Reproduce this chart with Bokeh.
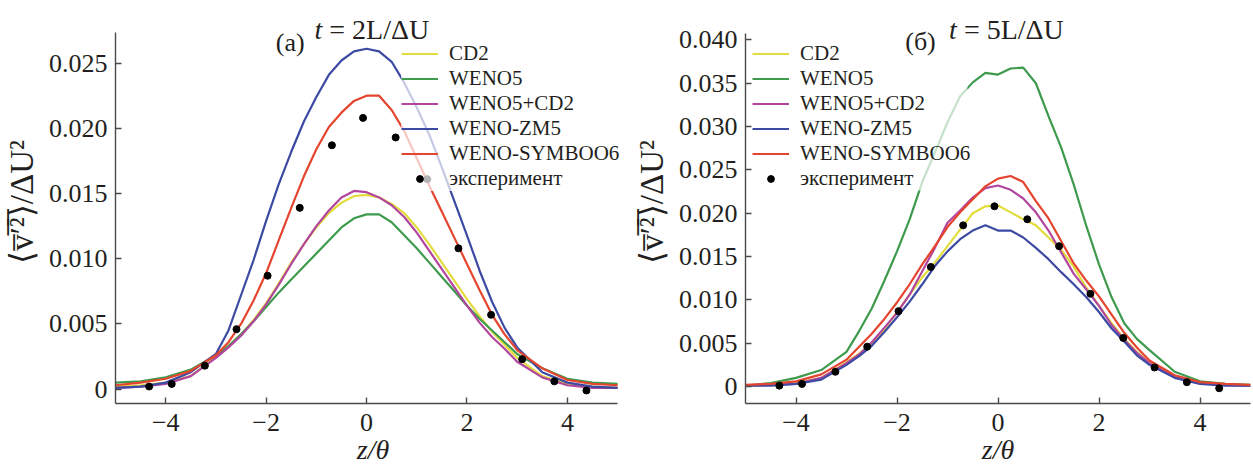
from bokeh.plotting import figure
from bokeh.layouts import row
from bokeh.models import Range1d, FixedTicker, Legend, LegendItem, Label, BoxAnnotation
from bokeh.embed import file_html
from bokeh.resources import INLINE

# ---------------- data ----------------
series_names = ["CD2", "WENO5", "WENO5+CD2", "WENO-ZM5", "WENO-SYMBOO6"]
exp_name = "эксперимент"

z = [-5, -4.5, -4, -3.5, -3, -2.75, -2.5, -2.25, -2, -1.75, -1.5, -1.25, -1, -0.75, -0.5, -0.25,
     0, 0.25, 0.5, 0.75, 1, 1.25, 1.5, 1.75, 2, 2.25, 2.5, 2.75, 3, 3.5, 4, 4.5, 5]

# panel (a): t = 2L/dU
cd2_a = [0.0002, 0.0003, 0.0005, 0.0010, 0.0025, 0.0033, 0.0042, 0.0053, 0.0066, 0.0081, 0.0097, 0.0111, 0.0124, 0.0135, 0.0143, 0.0148,
         0.0149, 0.0147, 0.0142, 0.0135, 0.0124, 0.0111, 0.0097, 0.0083, 0.0069, 0.0056, 0.0044, 0.0034, 0.0024, 0.0010, 0.0004, 0.0002, 0.0001]
weno5_a = [0.0005, 0.0006, 0.0009, 0.0015, 0.0026, 0.0033, 0.0042, 0.0052, 0.0063, 0.0074, 0.0084, 0.0094, 0.0104, 0.0114, 0.0124, 0.0131,
           0.0134, 0.0134, 0.0128, 0.0118, 0.0108, 0.0097, 0.0086, 0.0075, 0.0064, 0.0054, 0.0045, 0.0036, 0.0027, 0.0016, 0.0008, 0.0005, 0.0004]
weno5cd2_a = [0.0001, 0.0002, 0.0004, 0.0010, 0.0024, 0.0032, 0.0041, 0.0052, 0.0065, 0.0080, 0.0096, 0.0111, 0.0125, 0.0137, 0.0147, 0.0152,
              0.0151, 0.0147, 0.0141, 0.0132, 0.0120, 0.0106, 0.0092, 0.0078, 0.0064, 0.0051, 0.0040, 0.0031, 0.0021, 0.0009, 0.0003, 0.0001, 0.0001]
zm5_a = [0.0001, 0.0002, 0.0005, 0.0013, 0.0027, 0.0045, 0.0072, 0.0099, 0.0129, 0.0157, 0.0182, 0.0205, 0.0224, 0.0241, 0.0252, 0.0259,
         0.0261, 0.0259, 0.0251, 0.0235, 0.0216, 0.0195, 0.0170, 0.0144, 0.0118, 0.0091, 0.0067, 0.0047, 0.0032, 0.0013, 0.0005, 0.0002, 0.0001]
symboo6_a = [0.0003, 0.0005, 0.0008, 0.0014, 0.0026, 0.0036, 0.0050, 0.0068, 0.0089, 0.0114, 0.0139, 0.0163, 0.0184, 0.0201, 0.0212, 0.0221,
             0.0225, 0.0225, 0.0214, 0.0198, 0.0177, 0.0156, 0.0136, 0.0116, 0.0096, 0.0076, 0.0057, 0.0042, 0.0030, 0.0016, 0.0007, 0.0004, 0.0003]

# panel (б): t = 5L/dU
cd2_b = [0.0001, 0.0002, 0.0004, 0.0010, 0.0028, 0.0038, 0.0050, 0.0066, 0.0086, 0.0106, 0.0126, 0.0143, 0.0162, 0.0181, 0.0200, 0.0208,
         0.0209, 0.0201, 0.0193, 0.0186, 0.0172, 0.0158, 0.0138, 0.0114, 0.0093, 0.0073, 0.0055, 0.0040, 0.0027, 0.0011, 0.0004, 0.0002, 0.0001]
weno5_b = [0.0001, 0.0004, 0.0010, 0.0019, 0.0040, 0.0064, 0.0090, 0.0122, 0.0156, 0.0193, 0.0236, 0.0270, 0.0305, 0.0335, 0.0351, 0.0362,
           0.0360, 0.0367, 0.0368, 0.0350, 0.0312, 0.0276, 0.0233, 0.0185, 0.0141, 0.0103, 0.0073, 0.0055, 0.0042, 0.0017, 0.0006, 0.0003, 0.0002]
weno5cd2_b = [0.0001, 0.0002, 0.0003, 0.0010, 0.0027, 0.0037, 0.0051, 0.0068, 0.0085, 0.0106, 0.0133, 0.0160, 0.0189, 0.0203, 0.0218, 0.0229,
              0.0232, 0.0227, 0.0217, 0.0201, 0.0180, 0.0155, 0.0130, 0.0112, 0.0093, 0.0071, 0.0054, 0.0039, 0.0027, 0.0011, 0.0004, 0.0002, 0.0001]
zm5_b = [0.0001, 0.0001, 0.0003, 0.0008, 0.0025, 0.0035, 0.0047, 0.0063, 0.0080, 0.0098, 0.0118, 0.0139, 0.0156, 0.0170, 0.0180, 0.0186,
         0.0180, 0.0180, 0.0172, 0.0160, 0.0147, 0.0132, 0.0118, 0.0103, 0.0086, 0.0067, 0.0052, 0.0036, 0.0025, 0.0010, 0.0003, 0.0001, 0.0001]
symboo6_b = [0.0002, 0.0003, 0.0006, 0.0014, 0.0031, 0.0046, 0.0061, 0.0078, 0.0097, 0.0118, 0.0141, 0.0162, 0.0184, 0.0201, 0.0216, 0.0231,
             0.0240, 0.0243, 0.0236, 0.0214, 0.0194, 0.0168, 0.0142, 0.0122, 0.0104, 0.0083, 0.0062, 0.0045, 0.0030, 0.0013, 0.0005, 0.0003, 0.0002]

# experiment
exp_z = [-4.33, -3.88, -3.22, -2.59, -1.97, -1.33, -0.69, -0.07, 0.58, 1.21, 1.83, 2.48, 3.10, 3.74, 4.38]
exp_a = [0.0002, 0.0004, 0.0018, 0.0046, 0.0087, 0.0139, 0.0187, 0.0208, 0.0193, 0.0161, 0.0108, 0.0057, 0.0023, 0.0006, -0.0001]
exp_b = [0.0001, 0.0003, 0.0017, 0.0046, 0.0087, 0.0138, 0.0186, 0.0208, 0.0193, 0.0162, 0.0107, 0.0056, 0.0022, 0.0005, -0.0002]

x_ticks = [-4, -2, 0, 2, 4]
x_tick_labels = ["−4", "−2", "0", "2", "4"]
y_ticks_a = [0, 0.005, 0.010, 0.015, 0.020, 0.025]
y_tick_labels_a = ["0", "0.005", "0.010", "0.015", "0.020", "0.025"]
y_ticks_b = [0, 0.005, 0.010, 0.015, 0.020, 0.025, 0.030, 0.035, 0.040]
y_tick_labels_b = ["0", "0.005", "0.010", "0.015", "0.020", "0.025", "0.030", "0.035", "0.040"]

colors = ["#e2dc3c", "#3e9a4c", "#b2469e", "#3d4aa4", "#e5452f"]

FONT = "Times New Roman"
TXT = "#231f20"


def make_panel(width, bl, br, xhi, ylo, ytop, yhi, curves, expv, yt, ytl,
               title_num, panel_lab, leg_loc, title_x, panel_xy, leg_alpha, shade):
    p = figure(width=width, height=467, x_range=Range1d(-5, xhi), y_range=Range1d(ylo, yhi),
               output_backend="svg", toolbar_location=None,
               min_border_left=bl, min_border_right=br, min_border_top=0, min_border_bottom=64)
    p.outline_line_color = None
    p.grid.visible = False
    p.background_fill_color = "white"
    p.border_fill_color = "white"

    items = []
    for name, col, ys in zip(series_names, colors, curves):
        r = p.line(z, ys, line_color=col, line_width=2.2)
        items.append(LegendItem(label=name, renderers=[r]))
    rd = p.scatter(exp_z, expv, size=7, color="black")
    items.append(LegendItem(label=exp_name, renderers=[rd]))

    if shade is not None:
        l, r_, t, b = shade
        p.add_layout(BoxAnnotation(left=l, right=r_, top=t, bottom=b,
                                   left_units="screen", right_units="screen",
                                   top_units="screen", bottom_units="screen",
                                   fill_color="white", fill_alpha=0.7, line_color=None,
                                   level="annotation"))

    # title  t = nL/ΔU
    p.add_layout(Label(x=title_x, y=373.8, x_units="screen", y_units="screen", text="t",
                       text_font=FONT, text_font_size="28px", text_font_style="italic",
                       text_color=TXT, text_align="left", text_baseline="alphabetic", level="overlay"))
    p.add_layout(Label(x=title_x + 14.8, y=373.8, x_units="screen", y_units="screen",
                       text="= " + title_num + "L/ΔU",
                       text_font=FONT, text_font_size="28px", text_color=TXT,
                       text_align="left", text_baseline="alphabetic", level="overlay"))
    # panel letter
    p.add_layout(Label(x=panel_xy[0], y=panel_xy[1], x_units="screen", y_units="screen", text=panel_lab,
                       text_font=FONT, text_font_size="26px", text_color=TXT,
                       text_align="center", text_baseline="middle", level="overlay"))

    leg = Legend(items=items, location=leg_loc, padding=5, margin=0, spacing=0,
                 glyph_width=37, glyph_height=17, label_height=25, label_standoff=11,
                 border_line_color=None, background_fill_color="white", background_fill_alpha=leg_alpha,
                 label_text_font=FONT, label_text_font_size="21px", label_text_color=TXT)
    p.add_layout(leg)

    xa = p.xaxis[0]
    ya = p.yaxis[0]
    for ax in (xa, ya):
        ax.axis_line_color = "#4a4a4a"
        ax.axis_line_width = 1.4
        ax.major_tick_line_color = "#4a4a4a"
        ax.major_tick_line_width = 1.4
        ax.major_tick_in = 6
        ax.major_tick_out = 0
        ax.minor_tick_line_color = None
        ax.major_label_text_font = FONT
        ax.major_label_text_font_size = "26px"
        ax.major_label_text_color = TXT
        ax.axis_label_text_font = FONT
        ax.axis_label_text_color = TXT

    xa.ticker = FixedTicker(ticks=x_ticks)
    xa.major_label_overrides = {t: s for t, s in zip(x_ticks, x_tick_labels)}
    xa.major_label_standoff = 10
    xa.bounds = (-5, 5)
    xa.axis_label = "z/θ"
    xa.axis_label_text_font_size = "28px"
    xa.axis_label_text_font_style = "italic"
    xa.axis_label_standoff = 0

    ya.ticker = FixedTicker(ticks=yt)
    ya.major_label_overrides = {t: s for t, s in zip(yt, ytl)}
    ya.major_label_standoff = 8
    ya.bounds = (ylo, ytop)
    ya.axis_label = "⟨v̅′̅²̅⟩/ΔU²"
    ya.axis_label_text_font_size = "33px"
    ya.axis_label_text_font_style = "normal"
    ya.axis_label_standoff = 6
    return p


p1 = make_panel(630, 112, 0, 5.257, -0.0011, 0.02733, 0.02980,
                [cd2_a, weno5_a, weno5cd2_a, zm5_a, symboo6_a], exp_a,
                y_ticks_a, y_tick_labels_a, "2", "(a)", (286, 212), 199.0, (174.7, 361), 0.7, None)
p2 = make_panel(623, 115, 3, 5.0, -0.00196, 0.04075, 0.04455,
                [cd2_b, weno5_b, weno5cd2_b, zm5_b, symboo6_b], exp_b,
                y_ticks_b, y_tick_labels_b, "5", "(б)", (7, 212), 203.6, (175, 362), 0.0,
                (7, 222, 356, 213))

layout = row(p1, p2)
open("out.html", "w").write(file_html(layout, INLINE))
